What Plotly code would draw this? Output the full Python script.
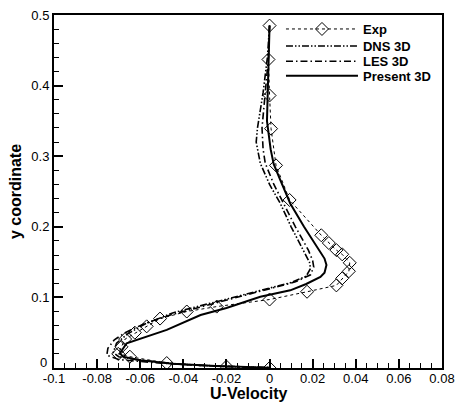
import plotly.graph_objects as go

# Experimental data
exp_u = [0.0, -0.0005, 0.0, 0.0007, 0.003, 0.0093, 0.024, 0.0275, 0.031, 0.0337, 0.0372,
         0.0368, 0.0337, 0.031, 0.0174, 0.0, -0.0245, -0.0384, -0.0508, -0.057, -0.0625,
         -0.067, -0.0687, -0.0702, -0.0648, -0.0477, -0.02, 0.0]
exp_y = [0.485, 0.437, 0.386, 0.339, 0.287, 0.238, 0.188, 0.177, 0.167, 0.161, 0.149,
         0.137, 0.127, 0.117, 0.108, 0.097, 0.087, 0.080, 0.070, 0.059, 0.050,
         0.041, 0.030, 0.020, 0.016, 0.007, 0.002, 0.0]

dns_u = [0.0, -0.001, -0.003, -0.0056, -0.0062, -0.0043, 0.0, 0.005, 0.010, 0.0158, 0.0185,
         0.019, 0.017, 0.010, 0.0, -0.015, -0.030, -0.045, -0.058, -0.066, -0.071, -0.0725,
         -0.070, -0.060, -0.040, -0.020, 0.0]
dns_y = [0.485, 0.44, 0.39, 0.34, 0.32, 0.29, 0.26, 0.233, 0.20, 0.167, 0.150,
         0.141, 0.130, 0.121, 0.113, 0.102, 0.090, 0.078, 0.062, 0.048, 0.035, 0.022,
         0.016, 0.011, 0.005, 0.002, 0.0005]

les_u = [0.0, -0.0005, -0.002, -0.0035, -0.003, -0.002, 0.002, 0.0065, 0.012, 0.018, 0.020,
         0.0205, 0.019, 0.012, 0.0, -0.015, -0.030, -0.045, -0.058, -0.067, -0.072, -0.075,
         -0.0755, -0.070, -0.055, -0.035, -0.015, 0.0]
les_y = [0.485, 0.44, 0.39, 0.34, 0.31, 0.29, 0.26, 0.233, 0.20, 0.167, 0.152,
         0.143, 0.132, 0.122, 0.112, 0.100, 0.088, 0.076, 0.063, 0.050, 0.040, 0.028,
         0.018, 0.012, 0.008, 0.004, 0.002, 0.0005]

pres_u = [0.0, -0.0004, -0.0008, -0.0012, 0.0005, 0.0019, 0.005, 0.0096, 0.016, 0.022, 0.0255,
          0.0264, 0.0255, 0.0236, 0.017, 0.0096, -0.0043, -0.020, -0.032, -0.0477, -0.060,
          -0.0663, -0.0694, -0.068, -0.060, -0.045, -0.025, 0.0]
pres_y = [0.485, 0.44, 0.39, 0.35, 0.31, 0.289, 0.266, 0.233, 0.20, 0.172, 0.155,
          0.146, 0.135, 0.129, 0.119, 0.110, 0.101, 0.085, 0.075, 0.054, 0.042,
          0.035, 0.021, 0.016, 0.011, 0.006, 0.003, 0.0005]

x_ticks = [-0.1, -0.08, -0.06, -0.04, -0.02, 0, 0.02, 0.04, 0.06, 0.08]
x_labels = ["-0.1", "-0.08", "-0.06", "-0.04", "-0.02", "0", "0.02", "0.04", "0.06", "0.08"]
y_ticks = [0, 0.1, 0.2, 0.3, 0.4, 0.5]
y_labels = ["", "0.1", "0.2", "0.3", "0.4", "0.5"]
y_zero_label = "0"
x_title = "U-Velocity"

fig = go.Figure()
fig.add_trace(go.Scatter(x=exp_u, y=exp_y, name="Exp", mode="lines+markers", legend="legend",
                         showlegend=True,
                         line=dict(color="black", width=1, dash="dot"),
                         marker=dict(symbol="diamond-open", size=10, color="black",
                                     line=dict(width=1, color="black"))))
fig.add_trace(go.Scatter(x=dns_u, y=dns_y, name="DNS 3D", mode="lines", legend="legend2",
                         showlegend=True,
                         line=dict(color="black", width=1.6, dash="7px,2px,1.5px,2px,1.5px,2px")))
fig.add_trace(go.Scatter(x=les_u, y=les_y, name="LES 3D", mode="lines", legend="legend3",
                         showlegend=True,
                         line=dict(color="black", width=1.6, dash="7px,3px,1.5px,3px")))
fig.add_trace(go.Scatter(x=pres_u, y=pres_y, name="Present 3D", mode="lines", legend="legend4",
                         showlegend=True,
                         line=dict(color="black", width=2)))

axis_font = dict(family="Liberation Sans, Arial, sans-serif", size=13, color="black")
legend_font = dict(family="Liberation Sans, Arial, sans-serif", size=13, color="black",
                   weight="bold")


def legend_box(ypos):
    return dict(x=0.585, y=ypos, xanchor="left", yanchor="middle",
                bgcolor="rgba(0,0,0,0)", itemwidth=72, font=legend_font)


fig.update_layout(
    width=458, height=404,
    margin=dict(l=54, r=16, t=15, b=36),
    paper_bgcolor="white", plot_bgcolor="white",
    font=axis_font,
    showlegend=True,
    legend=legend_box(0.9603),
    legend2=legend_box(0.9122),
    legend3=legend_box(0.869),
    legend4=legend_box(0.828),
    xaxis=dict(range=[-0.1, 0.08], tickvals=x_ticks, ticktext=x_labels, automargin=False,
               showgrid=False, zeroline=False, showline=True, linecolor="black", linewidth=2,
               mirror=True, ticks="inside", ticklen=9, tickwidth=1.5, tickcolor="black",
               ticklabelstandoff=-3,
               minor=dict(ticks="inside", ticklen=5, dtick=0.005, tickwidth=1, tickcolor="black",
                          showgrid=False),
               tickfont=axis_font),
    yaxis=dict(range=[0, 0.5], tickvals=y_ticks, ticktext=y_labels, automargin=False,
               showgrid=False, zeroline=False, showline=True, linecolor="black", linewidth=2,
               mirror=True, ticks="inside", ticklen=9, tickwidth=1.5, tickcolor="black",
               minor=dict(ticks="inside", ticklen=5, dtick=0.02, tickwidth=1, tickcolor="black",
                          showgrid=False),
               title=dict(text="y coordinate", font=dict(size=16, weight="bold"), standoff=6),
               tickfont=axis_font),
)
fig.add_annotation(x=0, xref="paper", y=y_ticks[0], yref="y", text=y_zero_label,
                   showarrow=False, xanchor="right", yanchor="middle", xshift=-5, yshift=6,
                   font=axis_font)
fig.add_annotation(x=0.5, xref="paper", y=0, yref="paper", text=x_title,
                   showarrow=False, xanchor="center", yanchor="middle", yshift=-25,
                   font=dict(family="Liberation Sans, Arial, sans-serif", size=16,
                             color="black", weight="bold"))

fig.write_html("out.html")
